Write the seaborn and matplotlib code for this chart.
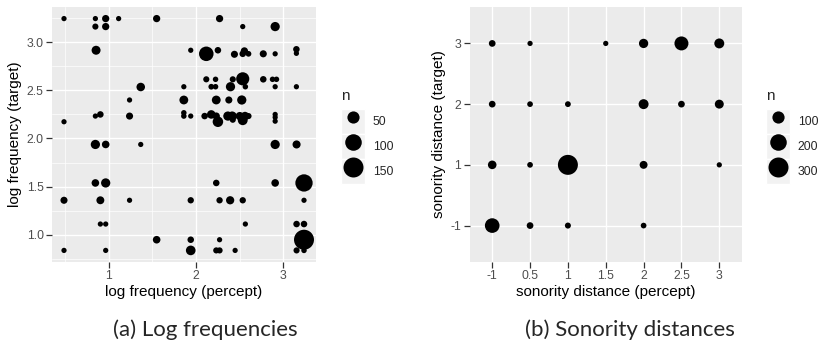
import numpy as np
import pandas as pd
import matplotlib
matplotlib.use("Agg")
import matplotlib.pyplot as plt
from matplotlib.lines import Line2D
from matplotlib.patches import Patch
from matplotlib.legend_handler import HandlerTuple
from matplotlib.ticker import MultipleLocator, FormatStrFormatter
import seaborn as sns

# ---- (a) log frequency of percept vs target, bubble = count ----
freq_percept = [0.489, 0.848, 0.966, 1.114, 1.549, 2.269,
                0.848, 0.966, 2.534, 2.905,
                0.856, 1.939, 2.117, 2.250, 2.439, 2.553, 2.534, 2.600, 2.769, 2.905, 3.148, 3.148,
                2.117, 2.223, 2.420, 2.534, 2.769, 2.875, 2.920,
                1.367, 1.860, 2.174, 2.223, 2.394, 2.564, 2.905, 3.148,
                1.239, 1.860, 2.231, 2.375, 2.523,
                0.489, 0.848, 0.905, 1.239, 1.860, 1.860, 1.939, 2.098, 2.174, 2.250, 2.231,
                2.364, 2.413, 2.420, 2.534, 2.500, 2.560, 2.600, 2.905, 2.905, 2.905,
                0.848, 0.966, 1.367, 2.905, 3.150,
                0.848, 0.966, 2.231, 2.905, 3.235,
                0.489, 0.905, 1.239, 1.939, 2.269, 2.390, 2.534, 3.235,
                0.905, 0.966, 2.564, 3.150, 3.235,
                1.549, 1.939, 2.269, 3.235,
                0.489, 0.966, 1.939, 2.231, 2.269, 2.447, 3.150, 3.235]
freq_target = [3.246, 3.246, 3.246, 3.246, 3.246, 3.246,
               3.163, 3.163, 3.163, 3.163,
               2.917, 2.917, 2.880, 2.917, 2.875, 2.910, 2.880, 2.880, 2.880, 2.880, 2.927, 2.885,
               2.615, 2.615, 2.615, 2.620, 2.615, 2.615, 2.615,
               2.535, 2.538, 2.538, 2.538, 2.538, 2.538, 2.538, 2.538,
               2.400, 2.400, 2.400, 2.400, 2.400,
               2.174, 2.233, 2.250, 2.233, 2.267, 2.233, 2.233, 2.233, 2.250, 2.174, 2.233,
               2.233, 2.233, 2.195, 2.190, 2.233, 2.233, 2.233, 2.250, 2.220, 2.180,
               1.938, 1.938, 1.938, 1.938, 1.938,
               1.538, 1.538, 1.538, 1.538, 1.538,
               1.358, 1.358, 1.358, 1.358, 1.358, 1.358, 1.358, 1.358,
               1.111, 1.111, 1.111, 1.111, 1.111,
               0.948, 0.948, 0.948, 0.948,
               0.837, 0.837, 0.837, 0.837, 0.837, 0.837, 0.837, 0.837]
freq_n = [2, 2, 12, 2, 12, 12,
          6, 12, 2, 25,
          23, 2, 75, 8, 11, 12, 8, 4, 11, 2, 8, 2,
          6, 3, 6, 60, 8, 3, 3,
          20, 2, 4, 3, 25, 3, 2, 2,
          2, 22, 22, 11, 25,
          2, 2, 8, 11, 3, 3, 2, 8, 20, 35, 12,
          25, 25, 6, 30, 18, 20, 6, 2, 2, 2,
          25, 14, 2, 25, 17,
          14, 25, 8, 14, 110,
          11, 16, 2, 7, 7, 18, 7, 2,
          2, 2, 2, 8, 8,
          14, 8, 2, 160,
          2, 2, 28, 6, 6, 2, 6, 3]

# ---- (b) sonority distance of percept vs target, bubble = count ----
son_levels_x = ["-1", "0.5", "1", "1.5", "2", "2.5", "3"]
son_levels_y = ["-1", "1", "2", "3"]
son_percept = ["-1", "0.5", "1.5", "2", "2.5", "3",
               "-1", "0.5", "1", "2", "2.5", "3",
               "-1", "0.5", "1", "2", "3",
               "-1", "0.5", "1", "2"]
son_target = ["3", "3", "3", "3", "3", "3",
              "2", "2", "2", "2", "2", "2",
              "1", "1", "1", "1", "1",
              "-1", "-1", "-1", "-1"]
son_n = [17, 3, 3, 50, 137, 60,
         17, 7, 8, 60, 17, 45,
         40, 7, 322, 31, 3,
         152, 17, 10, 7]

legend_a = [50, 100, 150]
legend_b = [100, 200, 300]

SIZES = (13, 207)          # marker area range (pt^2)
NORM_A = (1, 150)
NORM_B = (1, 300)

sns.set_theme(style="darkgrid")
plt.rcParams.update({
    "font.family": ["Liberation Sans", "DejaVu Sans"],
    "axes.facecolor": "#EBEBEB",
    "axes.edgecolor": "none",
    "grid.color": "white",
    "xtick.color": "#333333",
    "ytick.color": "#333333",
    "xtick.labelcolor": "#4D4D4D",
    "ytick.labelcolor": "#4D4D4D",
    "xtick.labelsize": 8.8,
    "ytick.labelsize": 8.8,
    "axes.labelsize": 11,
    "axes.labelcolor": "black",
})

df_a = pd.DataFrame({"percept": freq_percept, "target": freq_target, "n": freq_n})
df_b = pd.DataFrame({
    "percept": pd.Categorical(son_percept, categories=son_levels_x),
    "target": pd.Categorical(son_target, categories=son_levels_y),
    "n": son_n,
})

fig = plt.figure(figsize=(8.18, 3.5), dpi=100)
W, H = 818, 350
ax_a = fig.add_axes([52 / W, 1 - 262 / H, 264 / W, 255 / H])
ax_b = fig.add_axes([469.5 / W, 1 - 262 / H, 272.5 / W, 255 / H])


def area(n, norm):
    lo, hi = SIZES
    return lo + (hi - lo) * (n - norm[0]) / (norm[1] - norm[0])


def style_axes(ax):
    for s in ax.spines.values():
        s.set_visible(False)
    ax.tick_params(which="major", direction="out", length=4, width=0.9, pad=2,
                   bottom=True, left=True)
    ax.tick_params(which="minor", length=0)
    ax.grid(which="major", color="white", linewidth=1.0)
    ax.set_axisbelow(True)


def add_legend(ax, values, norm, left_px):
    handles = []
    for v in values:
        key = Patch(facecolor="#F2F2F2", edgecolor="white", linewidth=1.0)
        dot = Line2D([], [], marker="o", linestyle="", color="black",
                     markeredgewidth=0, markersize=np.sqrt(area(v, norm)))
        handles.append((key, dot))
    fig.text(left_px / W, 1 - 96 / H, "n", fontsize=11, ha="left", va="center")
    leg = ax.legend(handles, [str(v) for v in values],
                    handler_map={tuple: HandlerTuple(ndivide=1, pad=0)},
                    loc="upper left", bbox_to_anchor=(left_px / W, 1 - 109 / H),
                    bbox_transform=fig.transFigure, frameon=False,
                    fontsize=8.8, handlelength=1.96, handleheight=2.75,
                    labelspacing=0.0, handletextpad=0.65,
                    borderpad=0, borderaxespad=0)
    return leg


# panel (a)
sns.scatterplot(data=df_a, x="percept", y="target", size="n", sizes=SIZES,
                size_norm=NORM_A, color="black", linewidth=0, legend=False,
                ax=ax_a)
style_axes(ax_a)
ax_a.margins(0.05)
ax_a.xaxis.set_major_locator(MultipleLocator(1))
ax_a.xaxis.set_minor_locator(MultipleLocator(0.5))
ax_a.yaxis.set_major_locator(MultipleLocator(0.5))
ax_a.yaxis.set_minor_locator(MultipleLocator(0.25))
ax_a.yaxis.set_major_formatter(FormatStrFormatter("%.1f"))
ax_a.grid(which="minor", color="white", linewidth=0.5)
ax_a.set_xlabel("log frequency (percept)", labelpad=2)
ax_a.set_ylabel("log frequency (target)", labelpad=3)
add_legend(ax_a, legend_a, NORM_A, 341)

# panel (b)
sns.scatterplot(data=df_b, x="percept", y="target", size="n", sizes=SIZES,
                size_norm=NORM_B, color="black", linewidth=0, legend=False,
                ax=ax_b)
style_axes(ax_b)
ax_b.set_xlim(-0.6, len(son_levels_x) - 0.4)
ax_b.set_ylim(-0.6, len(son_levels_y) - 0.4)
ax_b.grid(which="minor", visible=False)
ax_b.set_xlabel("sonority distance (percept)", labelpad=2)
ax_b.set_ylabel("sonority distance (target)", labelpad=3)
add_legend(ax_b, legend_b, NORM_B, 766)

# sub-figure captions
cap_font = dict(family=["Lato", "DejaVu Sans"], fontsize=16, ha="center", va="center")
fig.text(205 / W, 1 - 330 / H, "(a) Log frequencies", **cap_font)
fig.text(630 / W, 1 - 330 / H, "(b) Sonority distances", **cap_font)

fig.savefig("out.png", dpi=100, facecolor="white")
